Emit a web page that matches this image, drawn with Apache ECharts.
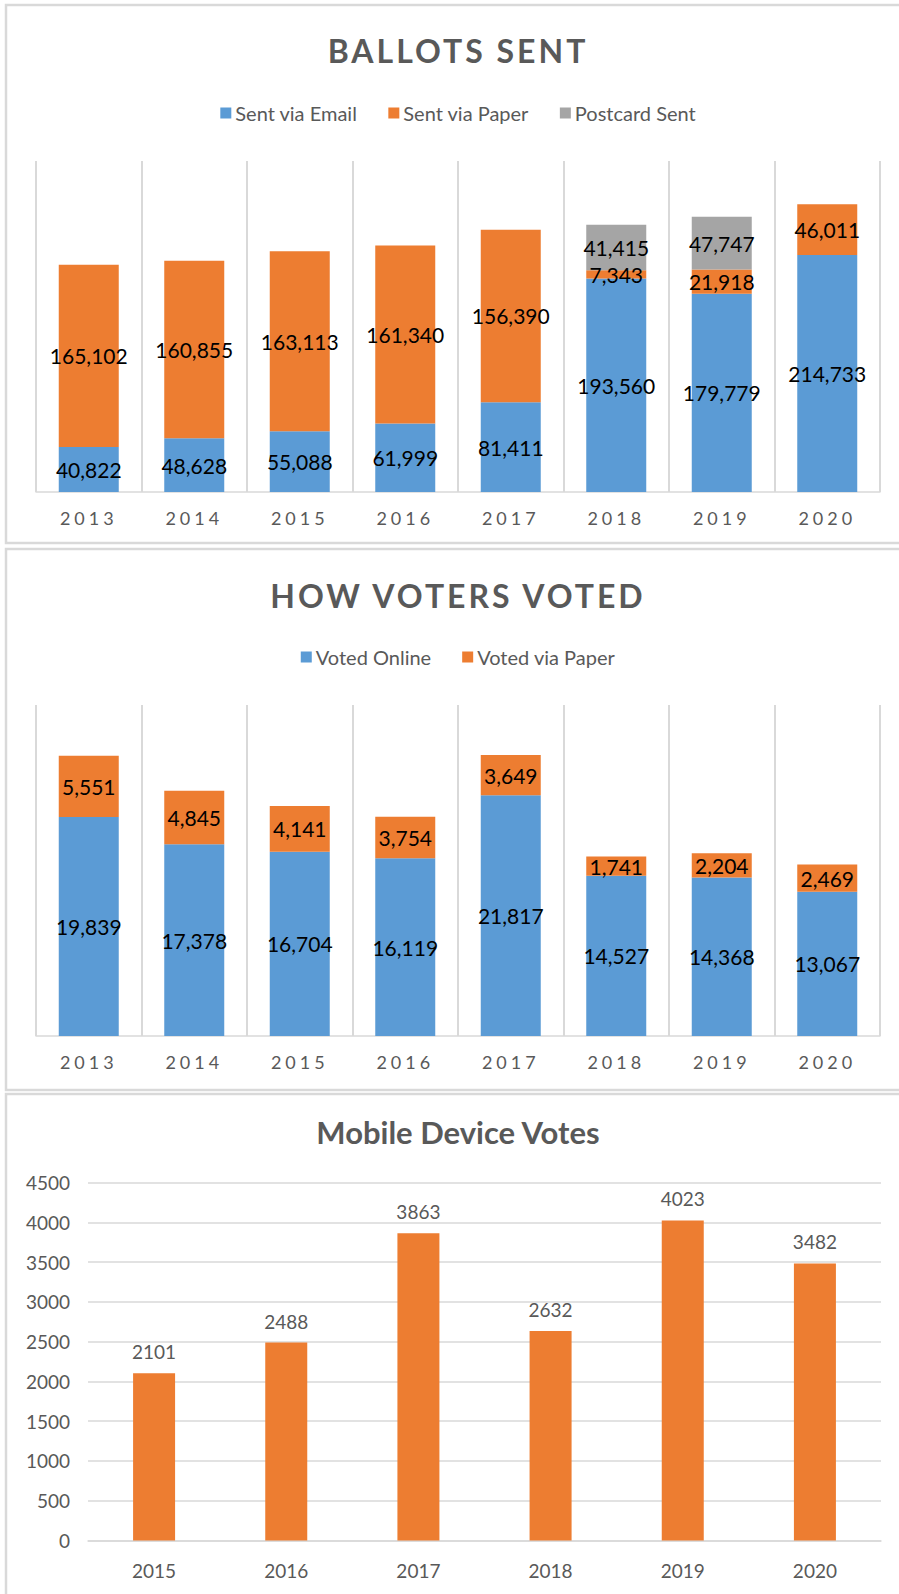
<!DOCTYPE html>
<html>
<head>
<meta charset="utf-8">
<script src="https://cdn.jsdelivr.net/npm/echarts@6/dist/echarts.min.js"></script>
<style>
  html, body { margin: 0; padding: 0; background: #fff; overflow: hidden; }
  #chart { position: absolute; left: 0; top: 0; width: 916px; height: 1594px; }
  #chart text[style*="Caladea"] { letter-spacing: 3px; }
  #chart text[style*="Carlito"] { letter-spacing: 4px; }
</style>
</head>
<body>
<div id="chart"></div>
<script>
// ---- data ----
const years = ['2013', '2014', '2015', '2016', '2017', '2018', '2019', '2020'];
const sentEmail = [40822, 48628, 55088, 61999, 81411, 193560, 179779, 214733];
const sentPaper = [165102, 160855, 163113, 161340, 156390, 7343, 21918, 46011];
const postcardSent = [null, null, null, null, null, 41415, 47747, null];
const votedOnline = [19839, 17378, 16704, 16119, 21817, 14527, 14368, 13067];
const votedPaper = [5551, 4845, 4141, 3754, 3649, 1741, 2204, 2469];
const mobileYears = ['2015', '2016', '2017', '2018', '2019', '2020'];
const mobileVotes = [2101, 2488, 3863, 2632, 4023, 3482];

const BLUE = '#5B9BD5', ORANGE = '#ED7D31', GRAY = '#A5A5A5';
const TXT = '#595959', LINE = '#D9D9D9';
const FONT = 'Lato';
const TITLE_FONT = 'Lato, Caladea';
const SPACED_FONT = 'Lato, Carlito';

const fmt = v => (v == null ? '' : v.toLocaleString('en-US'));

function catAxis(grid, data, spaced) {
  return {
    type: 'category', gridIndex: grid, data: data,
    axisLine: { show: true, lineStyle: { color: LINE, width: 1.5 } },
    axisTick: { show: false },
    splitLine: { show: spaced, lineStyle: { color: LINE, width: 2 } },
    axisLabel: {
      margin: spaced ? 17 : 20,
      fontSize: spaced ? 18 : 19,
      color: TXT,
      fontFamily: spaced ? SPACED_FONT : FONT
    }
  };
}

function stackBar(name, data, color, xi, stack) {
  return {
    name: name, type: 'bar', stack: stack, data: data,
    xAxisIndex: xi, yAxisIndex: xi, barWidth: 60,
    itemStyle: { color: color },
    label: {
      show: true, position: 'inside', color: '#000', fontSize: 21,
      fontFamily: FONT, textBorderWidth: 0,
      formatter: p => fmt(p.value)
    }
  };
}

const option = {
  animation: false,
  backgroundColor: '#fff',
  graphic: [
    { type: 'rect', shape: { x: 6, y: 5, width: 960, height: 538 }, style: { fill: 'none', stroke: LINE, lineWidth: 2.5 }, silent: true },
    { type: 'rect', shape: { x: 6, y: 549, width: 960, height: 541 }, style: { fill: 'none', stroke: LINE, lineWidth: 2.5 }, silent: true },
    { type: 'rect', shape: { x: 6, y: 1094, width: 960, height: 560 }, style: { fill: 'none', stroke: LINE, lineWidth: 2.5 }, silent: true }
  ],
  title: [
    { text: 'BALLOTS SENT', left: 'center', top: 34, padding: 0,
      textStyle: { fontSize: 32, fontWeight: 'bold', color: TXT, fontFamily: TITLE_FONT } },
    { text: 'HOW VOTERS VOTED', left: 'center', top: 579, padding: 0,
      textStyle: { fontSize: 32, fontWeight: 'bold', color: TXT, fontFamily: TITLE_FONT } },
    { text: 'Mobile Device Votes', left: 'center', top: 1116, padding: 0,
      textStyle: { fontSize: 31, fontWeight: 'bold', color: TXT, fontFamily: FONT } }
  ],
  legend: [
    { data: ['Sent via Email', 'Sent via Paper', 'Postcard Sent'], left: 'center', top: 103,
      itemWidth: 11, itemHeight: 11, itemGap: 31, icon: 'rect', padding: 0,
      textStyle: { fontSize: 20, color: TXT, fontFamily: FONT, padding: [0, 0, 0, -1] } },
    { data: ['Voted Online', 'Voted via Paper'], left: 'center', top: 647,
      itemWidth: 11, itemHeight: 11, itemGap: 31, icon: 'rect', padding: 0,
      textStyle: { fontSize: 20, color: TXT, fontFamily: FONT, padding: [0, 0, 0, -1] } }
  ],
  grid: [
    { left: 36, right: 36, top: 161, height: 331 },
    { left: 36, right: 36, top: 705, height: 331 },
    { left: 88, right: 35, top: 1182.5, height: 358 }
  ],
  xAxis: [
    catAxis(0, years, true),
    catAxis(1, years, true),
    catAxis(2, mobileYears, false)
  ],
  yAxis: [
    { type: 'value', gridIndex: 0, min: 0, max: 300000, show: false },
    { type: 'value', gridIndex: 1, min: 0, max: 30000, show: false },
    { type: 'value', gridIndex: 2, min: 0, max: 4500, interval: 500,
      axisLine: { show: false }, axisTick: { show: false },
      splitLine: { show: true, lineStyle: { color: LINE, width: 1.5 } },
      axisLabel: { margin: 18, fontSize: 19, color: TXT, fontFamily: FONT,
                   formatter: v => String(v) } }
  ],
  series: [
    stackBar('Sent via Email', sentEmail, BLUE, 0, 'ballots'),
    stackBar('Sent via Paper', sentPaper, ORANGE, 0, 'ballots'),
    stackBar('Postcard Sent', postcardSent, GRAY, 0, 'ballots'),
    stackBar('Voted Online', votedOnline, BLUE, 1, 'voted'),
    stackBar('Voted via Paper', votedPaper, ORANGE, 1, 'voted'),
    {
      name: 'Mobile Device Votes', type: 'bar', data: mobileVotes,
      xAxisIndex: 2, yAxisIndex: 2, barWidth: 42,
      itemStyle: { color: ORANGE },
      label: { show: true, position: 'top', distance: 12, color: TXT, fontSize: 19, fontFamily: FONT }
    }
  ]
};

const chart = echarts.init(document.getElementById('chart'), null, { renderer: 'svg' });
chart.setOption(option);
</script>
</body>
</html>
